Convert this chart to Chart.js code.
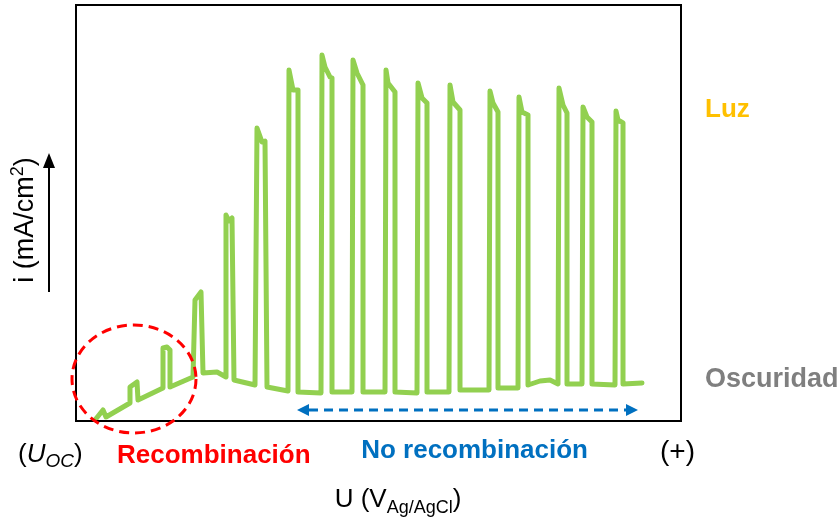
<!DOCTYPE html>
<html lang="es">

<head>
  <meta charset="UTF-8">
  <title>Fotocorriente pulsada</title>
  <script src="https://cdn.jsdelivr.net/npm/chart.js"></script>
  <style>
    body {
      margin: 0;
      background: #fff;
    }
  </style>
</head>

<body>
  <canvas id="chopChart" width="839" height="523"></canvas>
  <script>
    // potencial (u.a.) y corriente (u.a.), luz on/off
    const potential = [
      19, 27, 30, 54, 54, 61, 62, 87, 87, 91, 94, 94, 117, 119, 125, 127, 141,
      150, 150, 153, 156, 158, 179, 181, 186, 189, 191, 212, 213, 217, 222, 222,
      245, 246, 249, 254, 256, 256, 276, 277, 281, 287, 287, 309, 310, 312, 319, 319,
      341, 342, 346, 351, 351, 373, 374, 377, 384, 384, 413, 414, 417, 422, 422,
      442, 443, 446, 452, 452, 464, 474, 482, 483, 487, 491, 491, 506, 507, 511, 516, 516,
      539, 540, 542, 547, 547, 566
    ];
    const current = [
      1, 11, 4, 18, 34, 39, 21, 33, 73, 74, 71, 34, 44, 121, 129, 48, 49,
      44, 206, 200, 203, 41, 36, 293, 279, 280, 34, 30, 351, 331, 331, 29,
      28, 366, 354, 344, 343, 29, 29, 361, 348, 336, 29, 29, 351, 338, 329, 29,
      28, 338, 323, 318, 29, 29, 336, 319, 311, 31, 31, 330, 318, 309, 33,
      33, 324, 309, 306, 36, 40, 41, 37, 333, 316, 308, 37, 37, 314, 304, 299, 37,
      36, 310, 301, 298, 37, 38
    ];

    const xRange = [0, 605];
    const yRange = [0, 416];

    // zonas marcadas en la figura (mismas unidades)
    const recombCircle = { x: 58, y: 42, rx: 62, ry: 54 };
    const noRecombArrow = { from: 221, to: 562, y: 11 };

    const fontFam = '"Liberation Sans", Arial, sans-serif';

    function drawRuns(ctx, runs, x, y, align) {
      let total = 0;
      runs.forEach(r => { ctx.font = r.font; total += ctx.measureText(r.text).width; });
      let cx = align === 'center' ? x - total / 2 : (align === 'right' ? x - total : x);
      runs.forEach(r => {
        ctx.font = r.font;
        ctx.fillText(r.text, cx, y + (r.dy || 0));
        cx += ctx.measureText(r.text).width;
      });
    }

    const annotations = {
      id: 'annotations',
      afterDraw(chart) {
        const ctx = chart.ctx;
        const area = chart.chartArea;
        const xs = chart.scales.x;
        const ys = chart.scales.y;
        ctx.save();

        // marco
        ctx.strokeStyle = '#000';
        ctx.lineWidth = 2;
        ctx.strokeRect(area.left, area.top, area.right - area.left, area.bottom - area.top);

        // circulo de recombinacion
        const cx = xs.getPixelForValue(recombCircle.x);
        const cy = ys.getPixelForValue(recombCircle.y);
        const rx = xs.getPixelForValue(recombCircle.x + recombCircle.rx) - cx;
        const ry = cy - ys.getPixelForValue(recombCircle.y + recombCircle.ry);
        ctx.strokeStyle = '#ff0000';
        ctx.lineWidth = 3;
        ctx.setLineDash([10, 6]);
        ctx.beginPath();
        ctx.ellipse(cx, cy, rx, ry, 0, 0, Math.PI * 2);
        ctx.stroke();

        // flecha doble
        const ax1 = xs.getPixelForValue(noRecombArrow.from);
        const ax2 = xs.getPixelForValue(noRecombArrow.to);
        const ay = ys.getPixelForValue(noRecombArrow.y);
        const head = 12;
        ctx.strokeStyle = '#0070c0';
        ctx.fillStyle = '#0070c0';
        ctx.setLineDash([9, 6]);
        ctx.beginPath();
        ctx.moveTo(ax1 + head, ay);
        ctx.lineTo(ax2 - head, ay);
        ctx.stroke();
        ctx.setLineDash([]);
        ctx.beginPath();
        ctx.moveTo(ax1, ay);
        ctx.lineTo(ax1 + head, ay - 6);
        ctx.lineTo(ax1 + head, ay + 6);
        ctx.closePath();
        ctx.fill();
        ctx.beginPath();
        ctx.moveTo(ax2, ay);
        ctx.lineTo(ax2 - head, ay - 6);
        ctx.lineTo(ax2 - head, ay + 6);
        ctx.closePath();
        ctx.fill();

        // textos
        ctx.textBaseline = 'alphabetic';
        ctx.textAlign = 'left';
        ctx.fillStyle = '#ffc000';
        ctx.font = 'bold 26px ' + fontFam;
        ctx.fillText('Luz', 705, 117);
        ctx.fillStyle = '#7f7f7f';
        ctx.font = 'bold 27px ' + fontFam;
        ctx.fillText('Oscuridad', 705, 387);

        ctx.font = 'bold 26px ' + fontFam;
        ctx.fillStyle = '#ff0000';
        ctx.fillText('Recombinación', 117, 463);
        ctx.fillStyle = '#0070c0';
        ctx.textAlign = 'right';
        ctx.fillText('No recombinación', 588, 458);
        ctx.textAlign = 'left';

        ctx.fillStyle = '#000';
        const normal = '26px ' + fontFam;
        const small = '18px ' + fontFam;
        drawRuns(ctx, [
          { text: '(', font: normal },
          { text: 'U', font: 'italic ' + normal },
          { text: 'OC', font: 'italic 19px ' + fontFam, dy: 5 },
          { text: ')', font: normal }
        ], 18, 462, 'left');
        drawRuns(ctx, [{ text: '(+)', font: '28px ' + fontFam }], 660, 460, 'left');
        drawRuns(ctx, [
          { text: 'U (V', font: normal },
          { text: 'Ag/AgCl', font: small, dy: 6 },
          { text: ')', font: normal }
        ], 398, 507, 'center');

        // titulo eje y con flecha
        ctx.save();
        ctx.translate(33, 220);
        ctx.rotate(-Math.PI / 2);
        drawRuns(ctx, [
          { text: 'i (mA/cm', font: '27px ' + fontFam },
          { text: '2', font: small, dy: -10 },
          { text: ')', font: '27px ' + fontFam }
        ], 0, 0, 'center');
        ctx.restore();

        ctx.strokeStyle = '#000';
        ctx.fillStyle = '#000';
        ctx.lineWidth = 2;
        ctx.beginPath();
        ctx.moveTo(49, 292);
        ctx.lineTo(49, 166);
        ctx.stroke();
        ctx.beginPath();
        ctx.moveTo(49, 153);
        ctx.lineTo(43, 168);
        ctx.lineTo(55, 168);
        ctx.closePath();
        ctx.fill();

        ctx.restore();
      }
    };

    const chartData = potential.map((u, i) => ({ x: u, y: current[i] }));

    new Chart(document.getElementById('chopChart').getContext('2d'), {
      type: 'line',
      data: {
        datasets: [{
          data: chartData,
          borderColor: '#92d050',
          borderWidth: 5,
          borderJoinStyle: 'round',
          borderCapStyle: 'round',
          pointRadius: 0,
          tension: 0,
          fill: false
        }]
      },
      options: {
        responsive: false,
        animation: false,
        layout: { padding: { left: 76, top: 5, right: 158, bottom: 102 } },
        plugins: {
          legend: { display: false },
          tooltip: { enabled: false }
        },
        scales: {
          x: { type: 'linear', display: false, min: xRange[0], max: xRange[1] },
          y: { type: 'linear', display: false, min: yRange[0], max: yRange[1] }
        }
      },
      plugins: [annotations]
    });
  </script>
</body>

</html>
